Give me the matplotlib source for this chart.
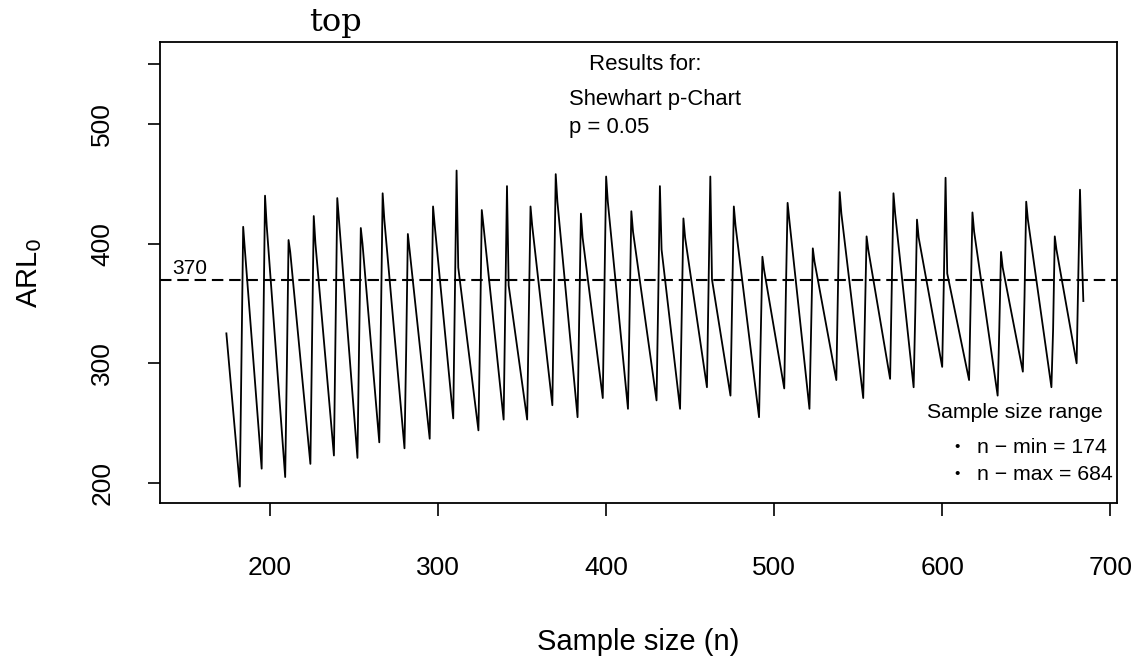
import matplotlib
matplotlib.use("Agg")
import matplotlib.pyplot as plt

# ARL0 of the Shewhart p-chart (p = 0.05) against sample size
n_first, arl_first = 174, 325
n_last, arl_last = 684, 352

trough_n = [182, 195, 209, 224, 238, 252, 265, 280, 295, 309, 324, 339, 353, 368,
            383, 398, 413, 430, 444, 460, 474, 491, 506, 521, 537, 553, 569, 583,
            600, 616, 633, 648, 665, 680]
trough_arl = [197, 212, 205, 216, 223, 221, 234, 229, 237, 254, 244, 253, 253, 265,
              255, 271, 262, 269, 262, 280, 273, 255, 279, 262, 286, 271, 287, 280,
              297, 286, 273, 293, 280, 300]
mid_arl = [305, 325, 297, 319, 328, 317, 338, 311, 336, 358, 328, 353, 340, 361,
           339, 363, 344, 353, 340, 370, 353, 322, 361, 328, 364, 338, 364, 344,
           370, 356, 330, 356, 328, 372]
peak_arl = [414, 440, 403, 423, 438, 413, 442, 408, 431, 461, 428, 448, 431, 458,
            425, 456, 427, 448, 421, 456, 431, 389, 434, 396, 443, 406, 442, 420,
            455, 426, 393, 435, 406, 445]
after_peak_arl = [395, 415, 393, 400, 420, 400, 420, 395, 415, 380, 415, 365, 415, 435,
                  405, 435, 410, 395, 405, 370, 415, 378, 420, 385, 425, 395, 425, 405,
                  375, 410, 380, 420, 395, 395]

target_arl = 370
x_ticks = [200, 300, 400, 500, 600, 700]
y_ticks = [200, 300, 400, 500, 550]
y_ticklabels = ["200", "300", "400", "500", ""]

# each tooth: trough, jump in two steps to the peak, then falls again
xs, ys = [n_first], [arl_first]
for i in range(len(trough_n)):
    t = trough_n[i]
    xs += [t, t + 1, t + 2, t + 3]
    ys += [trough_arl[i], mid_arl[i], peak_arl[i], after_peak_arl[i]]
xs.append(n_last)
ys.append(arl_last)

plt.rcParams['font.family'] = ['Liberation Sans', 'DejaVu Sans']

fig = plt.figure(figsize=(11.38, 6.59), dpi=100)
ax = fig.add_axes([0.1406, 0.2367, 0.8409, 0.6996])

ax.plot(xs, ys, color='black', lw=1.3)
ax.axhline(target_arl, color='black', lw=1.5, ls=(0, (5.5, 2.8)))

ax.set_xlim(134.5, 704)
ax.set_ylim(183.3, 568.4)

ax.set_xticks(x_ticks)
ax.set_yticks(y_ticks)
ax.set_yticklabels(y_ticklabels, rotation=90, va='center')
ax.tick_params(axis='both', length=9, width=1.2, labelsize=19, color='black')
ax.tick_params(axis='x', pad=29)
ax.tick_params(axis='y', pad=24)
for s in ax.spines.values():
    s.set_linewidth(1.3)

ax.set_xlabel("Sample size (n)", fontsize=21, va='center')
ax.set_ylabel("ARL$_0$", fontsize=21, va='center')
ax.xaxis.set_label_coords(0.5, -0.3015)
ax.yaxis.set_label_coords(-0.1358, 0.5)

ax.text(423, 550, "Results for:", fontsize=16, ha='center', va='center')
ax.text(378, 520, "Shewhart p-Chart", fontsize=15.8, ha='left', va='center')
ax.text(378, 497, "p = 0.05", fontsize=15.8, ha='left', va='center')
ax.text(152, 379.6, "370", fontsize=15, ha='center', va='center')

ax.text(643.5, 259, "Sample size range", fontsize=15.3, ha='center', va='center')
ax.text(609, 230, "\u2022", fontsize=11, ha='center', va='center')
ax.text(609, 207.5, "\u2022", fontsize=11, ha='center', va='center')
ax.text(621, 230, "n \u2212 min = 174", fontsize=15.3, ha='left', va='center')
ax.text(621, 207.5, "n \u2212 max = 684", fontsize=15.3, ha='left', va='center')

fig.text(335 / 1138, 1 - 22 / 659, "top", fontsize=23, ha='center', va='center',
         family=['DejaVu Serif'])

fig.savefig("out.png", dpi=100)
